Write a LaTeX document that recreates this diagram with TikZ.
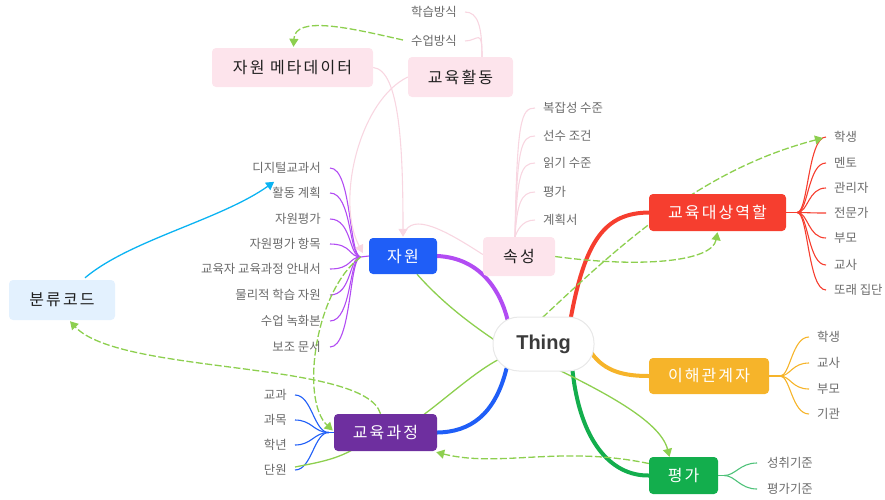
\documentclass[tikz,border=0pt]{standalone}
\usepackage{fontspec}
\usetikzlibrary{arrows.meta,calc}
\newfontfamily\kr{Noto Sans CJK KR}
\newfontfamily\krs[LetterSpace=13]{Noto Sans CJK KR}
\newfontfamily\thingfont{Liberation Sans}
\definecolor{pinkfill}{HTML}{FDE4EC}
\definecolor{pinkline}{HTML}{F8D6E1}
\definecolor{cblue}{HTML}{1F5EF7}
\definecolor{cred}{HTML}{F63E2F}
\definecolor{corange}{HTML}{F6B42A}
\definecolor{cgreen}{HTML}{13AE4D}
\definecolor{cpurple}{HTML}{6E2F9F}
\definecolor{cviolet}{HTML}{B24CF3}
\definecolor{lbluefill}{HTML}{E3F1FE}
\definecolor{relgreen}{HTML}{8DCF4F}
\definecolor{relcyan}{HTML}{0BB3F2}
\definecolor{leafgray}{HTML}{6B6B6B}
\definecolor{thinggray}{HTML}{3A3A3A}
\pgfdeclarelayer{bg}
\pgfsetlayers{bg,main}
\begin{document}
\begin{tikzpicture}[x=1pt,y=-1pt,
  topic/.style={rounded corners=4pt, inner sep=0pt, text=white,
    font=\krs\fontsize{16}{19}\selectfont},
  pinktopic/.style={topic, fill=pinkfill, text=black!88},
  leaf/.style={inner sep=0pt, text=leafgray, font=\kr\fontsize{12.4}{15}\selectfont},
  thick branch/.style={line width=4pt, line cap=round},
  thin branch/.style={line width=1.1pt},
  rel/.style={line width=1.3pt, color=relgreen},
  reldash/.style={rel, dash pattern=on 7pt off 2.5pt},
  tip/.style={-{Triangle[length=8pt,width=9pt]}},
  pinkrel/.style={line width=1.1pt, color=pinkline}
]
\useasboundingbox (0,0) rectangle (885,499);

% ---------- main topics ----------
\node[draw=black!9, fill=white, line width=1pt, rounded corners=26pt,
  minimum width=101pt, minimum height=54pt, inner sep=0pt,
  text=thinggray, font=\thingfont\bfseries\fontsize{20}{24}\selectfont] (thing) at (543.5,344) {Thing};

\node[topic, fill=cblue, minimum width=68pt, minimum height=36pt] (zw) at (403,256) {자원};
\node[topic, fill=cred, minimum width=137pt, minimum height=37pt] (role) at (717.5,212.5) {교육대상역할};
\node[topic, fill=corange, minimum width=120pt, minimum height=36pt] (stake) at (709,376) {이해관계자};
\node[topic, fill=cgreen, minimum width=69pt, minimum height=37pt] (eval) at (683.5,475.5) {평가};
\node[topic, fill=cpurple, minimum width=103pt, minimum height=37pt] (cur) at (385.5,432.5) {교육과정};

\node[pinktopic, minimum width=161pt, minimum height=39pt] (meta) at (292.5,67.5) {자원 메타데이터};
\node[pinktopic, minimum width=105pt, minimum height=40pt] (act) at (460.5,77) {교육활동};
\node[pinktopic, minimum width=72pt, minimum height=39pt] (attr) at (519,256.5) {속성};
\node[topic, fill=lbluefill, text=black!88, minimum width=106pt, minimum height=40pt] (code) at (62,300) {분류코드};

% ---------- leaves ----------
\node[leaf, anchor=east] (a1) at (457,12) {학습방식};
\node[leaf, anchor=east] (a2) at (457,41) {수업방식};

\node[leaf, anchor=west] (p1) at (543,108) {복잡성 수준};
\node[leaf, anchor=west] (p2) at (543,136) {선수 조건};
\node[leaf, anchor=west] (p3) at (543,163) {읽기 수준};
\node[leaf, anchor=west] (p4) at (543,192) {평가};
\node[leaf, anchor=west] (p5) at (543,220) {계획서};

\node[leaf, anchor=east] (z1) at (321,168) {디지털교과서};
\node[leaf, anchor=east] (z2) at (321,193) {활동 계획};
\node[leaf, anchor=east] (z3) at (321,219) {자원평가};
\node[leaf, anchor=east] (z4) at (321,244) {자원평가 항목};
\node[leaf, anchor=east] (z5) at (321,269) {교육자 교육과정 안내서};
\node[leaf, anchor=east] (z6) at (321,295) {물리적 학습 자원};
\node[leaf, anchor=east] (z7) at (321,321) {수업 녹화본};
\node[leaf, anchor=east] (z8) at (321,347) {보조 문서};

\node[leaf, anchor=west] (r1) at (834,137) {학생};
\node[leaf, anchor=west] (r2) at (834,163) {멘토};
\node[leaf, anchor=west] (r3) at (834,188) {관리자};
\node[leaf, anchor=west] (r4) at (834,213) {전문가};
\node[leaf, anchor=west] (r5) at (834,238) {부모};
\node[leaf, anchor=west] (r6) at (834,265) {교사};
\node[leaf, anchor=west] (r7) at (834,290) {또래 집단};

\node[leaf, anchor=west] (s1) at (817,337) {학생};
\node[leaf, anchor=west] (s2) at (817,363) {교사};
\node[leaf, anchor=west] (s3) at (817,389) {부모};
\node[leaf, anchor=west] (s4) at (817,414) {기관};

\node[leaf, anchor=west] (e1) at (767,463) {성취기준};
\node[leaf, anchor=west] (e2) at (767,489) {평가기준};

\node[leaf, anchor=east] (c1) at (287,395) {교과};
\node[leaf, anchor=east] (c2) at (287,420) {과목};
\node[leaf, anchor=east] (c3) at (287,445) {학년};
\node[leaf, anchor=east] (c4) at (287,470) {단원};

\coordinate (zwj) at ($(zw.west)+(-8,1)$);
\coordinate (rolej) at ($(role.east)+(11,0)$);
\coordinate (stakej) at ($(stake.east)+(11,0)$);
\coordinate (evalj) at ($(eval.east)+(6,0)$);
\coordinate (curj) at ($(cur.west)+(-5,0)$);
\coordinate (actj) at ($(act.north)+(21.5,0)$);
\coordinate (attrj) at ($(attr.north)+(-4,0)$);

\begin{pgfonlayer}{bg}
% ---------- main branches ----------
\draw[thick branch, cviolet] (zw.east) .. controls (480,258) and (500,290) .. ($(thing.north)+(-36,3)$);
\draw[thick branch, cred] ($(thing.north)+(27,3)$) .. controls (585,240) and (605,213) .. (role.west);
\draw[thick branch, corange] ($(thing.east)+(-3,9)$) .. controls (605,372) and (625,376) .. (stake.west);
\draw[thick branch, cgreen] ($(thing.south)+(29,-1)$) .. controls (580,440) and (610,476) .. (eval.west);
\draw[thick branch, cblue] ($(thing.south)+(-37,-3)$) .. controls (495,415) and (470,432) .. (cur.east);

% ---------- leaf branches ----------
\foreach \n in {a1,a2}
  \draw[thin branch, pinkline] ($(\n.east)+(8,0)$) .. controls ($(\n.east)+(21,0)$) and ($(actj)+(0,-30)$) .. (actj);
\foreach \n in {p1,p2,p3,p4,p5}
  \draw[thin branch, pinkline] (attrj) .. controls ($(attrj|-\n.west)+(2,12)$) and ($(attrj|-\n.west)+(6,0)$) .. ($(\n.west)+(-8,0)$);

\draw[thin branch, cviolet] (zwj) -- (zw.west);
\foreach \n in {z1,z2,z3,z4,z5,z6,z7,z8}
  \draw[thin branch, cviolet] ($(\n.east)+(9,0)$) .. controls ($(\n.east)+(31,0)$) and ($(zwj)+(-12,0)$) .. (zwj);

\draw[thin branch, cred] (role.east) -- (rolej);
\foreach \n in {r1,r2,r3,r4,r5,r6,r7}
  \draw[thin branch, cred] (rolej) .. controls ($(rolej)+(11,0)$) and ($(\n.west)+(-26,0)$) .. ($(\n.west)+(-8,0)$);

\draw[thin branch, corange] (stake.east) -- (stakej);
\foreach \n in {s1,s2,s3,s4}
  \draw[thin branch, corange] (stakej) .. controls ($(stakej)+(10,0)$) and ($(\n.west)+(-25,0)$) .. ($(\n.west)+(-8,0)$);

\draw[thin branch, cgreen!75] (eval.east) -- (evalj);
\foreach \n in {e1,e2}
  \draw[thin branch, cgreen!75] (evalj) .. controls ($(evalj)+(11,0)$) and ($(\n.west)+(-27,0)$) .. ($(\n.west)+(-10,0)$);

\draw[thin branch, cblue] (curj) -- (cur.west);
\foreach \n in {c1,c2,c3,c4}
  \draw[thin branch, cblue] ($(\n.east)+(8,0)$) .. controls ($(\n.east)+(25,0)$) and ($(curj)+(-15,0)$) .. (curj);

% ---------- pink relations ----------
\draw[pinkrel, tip] (meta.east) .. controls (400,70) and (403,150) .. ($(zw.north)+(0,-1)$);
\draw[pinkrel, tip] (act.west) .. controls (360,100) and (335,200) .. ($(zw.west)+(-6,-3)$);
\draw[pinkrel] ($(attr.west)+(0,-2)$) .. controls (445,230) and (412,212) .. ($(zw.north)+(1,-4)$);

% ---------- green / cyan relations ----------
\draw[reldash, tip] ($(a2.west)+(-8,-1)$) .. controls (350,28) and (295,15) .. ($(meta.north)+(1,-1)$);
\draw[reldash, tip] (attr.east) .. controls (640,268) and (712,262) .. ($(role.south)+(0,1)$);
\draw[reldash, tip] ($(thing.north)+(-1,1)$) .. controls (620,245) and (700,170) .. ($(r1.west)+(-11,1)$);
\draw[rel, tip] ($(thing.south)+(2,-8)$) .. controls (600,390) and (660,420) .. ($(eval.north)+(-14,0)$);
\draw[reldash, tip] ($(eval.west)+(0,-12)$) .. controls (560,445) and (500,468) .. ($(cur.south east)+(-1,1)$);
\draw[reldash, tip] ($(cur.north)+(-5,0)$) .. controls (365,360) and (120,375) .. ($(code.south)+(8,1)$);
\draw[rel, relcyan, tip] ($(code.north)+(23,-2)$) .. controls (130,240) and (220,220) .. ($(z1.south west)+(22,8)$);
\draw[reldash, tip] (zwj) .. controls (315,290) and (300,400) .. ($(cur.west)+(-1,-2)$);
\draw[rel] ($(cur.south)+(-32,-2)$) .. controls (335,460) and (315,463) .. ($(c4.east)+(8,-3)$);
\draw[rel] ($(zw.south)+(14,0)$) .. controls (440,300) and (465,320) .. ($(thing.west)+(2,-4)$);
\draw[rel] ($(cur.north)+(38,1)$) .. controls (450,395) and (475,372) .. ($(thing.south west)+(6,-12)$);
\end{pgfonlayer}
\end{tikzpicture}
\end{document}
